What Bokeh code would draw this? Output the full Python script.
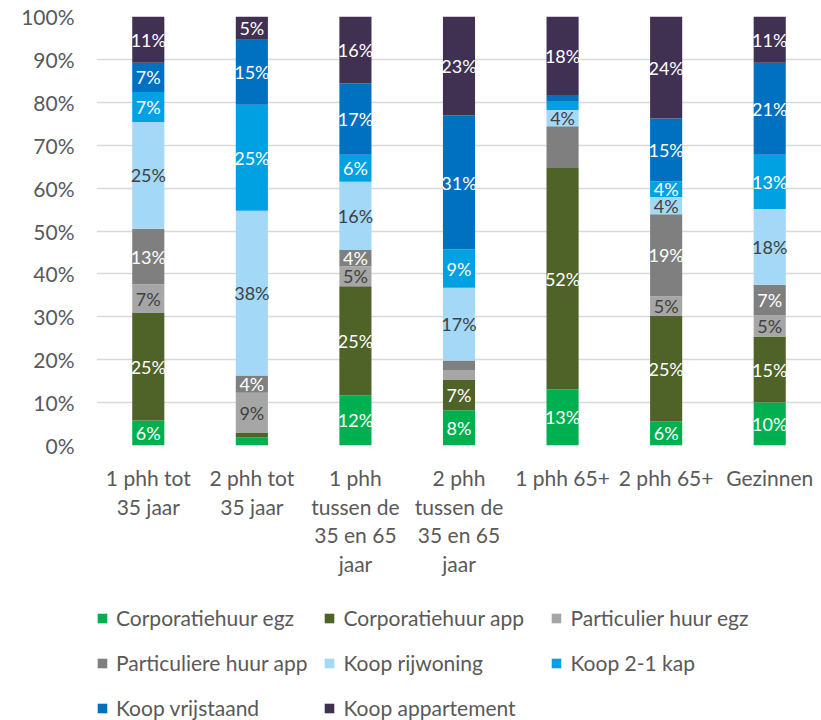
from bokeh.plotting import figure
from bokeh.layouts import column
from bokeh.models import (ColumnDataSource, FactorRange, Range1d, Legend, LegendItem,
                          PrintfTickFormatter, FixedTicker)
from bokeh.core.properties import value
from bokeh.embed import file_html
from bokeh.resources import INLINE

# Household groups (x categories) and their wrapped axis labels
groups = ["1 phh tot 35 jaar", "2 phh tot 35 jaar", "1 phh tussen de 35 en 65 jaar",
          "2 phh tussen de 35 en 65 jaar", "1 phh 65+", "2 phh 65+", "Gezinnen"]
group_labels = ["1 phh tot\n35 jaar", "2 phh tot\n35 jaar", "1 phh\ntussen de\n35 en 65\njaar",
                "2 phh\ntussen de\n35 en 65\njaar", "1 phh 65+", "2 phh 65+", "Gezinnen"]

# Share (%) of each housing type per group, bottom to top
corporatiehuur_egz = [5.8, 1.9, 11.7, 8.2, 13.1, 5.6, 10.0]
corporatiehuur_app = [25.1, 1.0, 25.4, 7.2, 51.6, 24.6, 15.4]
particulier_huur_egz = [6.7, 9.4, 4.7, 2.1, 0.0, 4.6, 4.9]
particuliere_huur_app = [12.9, 4.0, 3.8, 2.3, 9.7, 19.1, 7.2]
koop_rijwoning = [24.9, 38.4, 15.9, 17.0, 3.8, 4.0, 17.6]
koop_2_1_kap = [7.0, 24.7, 6.3, 8.9, 1.9, 3.7, 12.7]
koop_vrijstaand = [6.8, 15.2, 16.6, 31.2, 1.6, 14.6, 21.4]
koop_appartement = [10.8, 5.4, 15.6, 23.1, 18.3, 23.8, 10.8]

series_names = ["Corporatiehuur egz", "Corporatiehuur app", "Particulier huur egz",
                "Particuliere huur app", "Koop rijwoning", "Koop 2-1 kap",
                "Koop vrijstaand", "Koop appartement"]
series_values = [corporatiehuur_egz, corporatiehuur_app, particulier_huur_egz,
                 particuliere_huur_app, koop_rijwoning, koop_2_1_kap,
                 koop_vrijstaand, koop_appartement]
colors = ["#00b050", "#4f6228", "#a6a6a6", "#7f7f7f", "#a3d9f7", "#00a1e2", "#0070c0", "#403152"]
label_colors = ["white", "white", "#404040", "white", "#404040", "white", "white", "white"]

# Segments too small for a label, plus one segment left unlabeled
min_label = 3.0
unlabeled = {("1 phh 65+", "Particuliere huur app")}

FONT = "Lato"
TEXT_GREY = "#595959"
W = 821

keys = [f"s{i}" for i in range(len(series_names))]
data = {"group": groups}
for k, vals in zip(keys, series_values):
    data[k] = vals
source = ColumnDataSource(data)

# ---- stacked bar chart -------------------------------------------------------
p = figure(x_range=FactorRange(*groups, range_padding=0), y_range=Range1d(0, 100),
           width=W, height=460, output_backend="svg", toolbar_location=None,
           min_border_left=96, min_border_right=0, min_border_top=16, min_border_bottom=15)

p.vbar_stack(keys, x="group", width=0.31, source=source, color=colors, line_color=None)

# Data labels in the middle of each segment
lx, ly, lt, lc = [], [], [], []
for gi, g in enumerate(groups):
    base = 0.0
    for si, name in enumerate(series_names):
        v = series_values[si][gi]
        if v >= min_label and (g, name) not in unlabeled:
            lx.append(g)
            ly.append(base + v / 2)
            lt.append(f"{round(v):d}%")
            lc.append(label_colors[si])
        base += v
p.text(x="x", y="y", text="t", text_color="c",
       source=ColumnDataSource(dict(x=lx, y=ly, t=lt, c=lc)),
       text_align="center", text_baseline="middle",
       text_font=value(FONT), text_font_size="18px")

p.outline_line_color = None
p.xgrid.grid_line_color = None
p.ygrid.grid_line_color = "#d9d9d9"
p.ygrid.grid_line_width = 1.3
p.xaxis.visible = False

p.yaxis.ticker = FixedTicker(ticks=list(range(0, 101, 10)))
p.yaxis.formatter = PrintfTickFormatter(format="%d%%")
p.yaxis.axis_line_color = None
p.yaxis.major_tick_line_color = None
p.yaxis.minor_tick_line_color = None
p.yaxis.major_tick_out = 0
p.yaxis.major_label_standoff = 22
p.yaxis.major_label_text_font = FONT
p.yaxis.major_label_text_font_size = "21px"
p.yaxis.major_label_text_color = TEXT_GREY

# ---- category labels (wrapped) and legend ------------------------------------
line_step = 28.7
bot_h = 260
p_bot = figure(x_range=p.x_range,
               y_range=Range1d(start=(bot_h - 17) / line_step, end=-17 / line_step),
               width=W, height=bot_h, output_backend="svg", toolbar_location=None,
               min_border=0, min_border_left=96)
p_bot.outline_line_color = None
p_bot.axis.visible = False
p_bot.grid.grid_line_color = None

tx, ty, tt = [], [], []
for g, lab in zip(groups, group_labels):
    for li, line in enumerate(lab.split("\n")):
        tx.append(g)
        ty.append(li)
        tt.append(line)
p_bot.text(x="x", y="y", text="t", source=ColumnDataSource(dict(x=tx, y=ty, t=tt)),
           text_align="center", text_baseline="middle", text_color=TEXT_GREY,
           text_font=value(FONT), text_font_size="21px")

# the stacked bars again, on a range that keeps them out of view: legend swatches
p_bot.extra_y_ranges = {"swatch": Range1d(1000, 1100)}
swatches = p_bot.vbar_stack(keys, x="group", width=0.31, source=source,
                            color=colors, line_color=None, y_range_name="swatch")
items = [LegendItem(label=n, renderers=[r]) for n, r in zip(series_names, swatches)]
legend = Legend(items=items, orientation="horizontal", ncols=3,
                location=(0, -2), glyph_width=12, glyph_height=12,
                label_standoff=8, label_width=191, label_height=29, spacing=16,
                padding=0, margin=0,
                label_text_font=FONT, label_text_font_size="21px",
                label_text_color=TEXT_GREY, border_line_color=None,
                background_fill_alpha=0)
p_bot.add_layout(legend)

layout = column(p, p_bot, spacing=0)
open("out.html", "w").write(file_html(layout, INLINE))
